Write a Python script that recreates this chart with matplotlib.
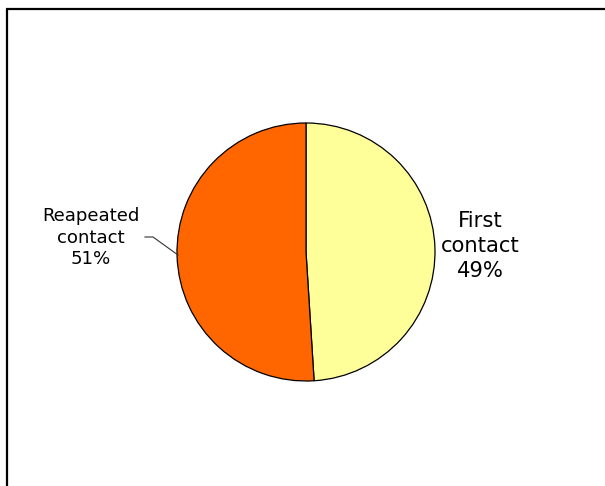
import matplotlib.pyplot as plt

# contact share
labels = ["First\ncontact", "Reapeated\ncontact"]
shares = [49, 51]
colors = ["#FFFF99", "#FF6600"]

W, H = 605, 486
fig = plt.figure(figsize=(W / 100, H / 100), dpi=100)
ax = fig.add_axes([0, 0, 1, 1])
ax.set_xlim(0, W)
ax.set_ylim(0, H)
ax.set_aspect("equal")
ax.axis("off")

# chart area frame (runs off the right and bottom)
ax.plot([7, 7], [0, H - 9.5], color="black", lw=1.6, solid_capstyle="butt")
ax.plot([6.2, W], [H - 9.5, H - 9.5], color="black", lw=1.6, solid_capstyle="butt")

ax.pie(shares, colors=colors, startangle=90, counterclock=False,
       center=(306, H - 252), radius=129, frame=True,
       wedgeprops=dict(edgecolor="black", linewidth=0.9))
ax.set_xlim(0, W)
ax.set_ylim(0, H)
ax.axis("off")

ax.text(480, H - 246, f"{labels[0]}\n{shares[0]}%", ha="center", va="center",
        fontsize=15.2, linespacing=1.3, family="DejaVu Sans")
ax.text(91, H - 238, f"{labels[1]}\n{shares[1]}%", ha="center", va="center",
        fontsize=13.1, linespacing=1.25, family="DejaVu Sans")

# leader line to the orange slice
ax.plot([145, 153, 178], [H - 237, H - 237, H - 255], color="#333333", lw=0.8)

fig.savefig("out.png", dpi=100)
